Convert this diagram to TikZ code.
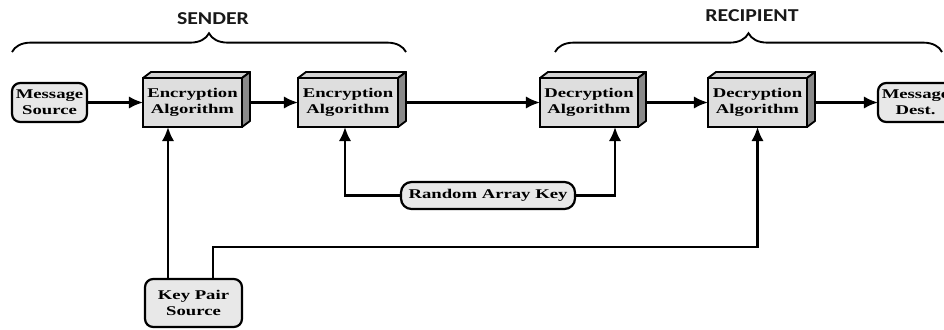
\documentclass[tikz,border=0pt]{standalone}
\usepackage{fontspec}
\usetikzlibrary{arrows.meta,decorations.pathreplacing,calc}
\newfontfamily\boxfont[FakeStretch=1.4]{Liberation Serif}
\newfontfamily\headfont[FakeStretch=1.2]{Carlito}
\newdimen\pxu
\pxu=0.03cm
\definecolor{boxfill}{HTML}{DEDEDE}
\definecolor{topfill}{HTML}{D2D2D2}
\definecolor{sidefill}{HTML}{8A8A8A}
\definecolor{roundfill}{HTML}{E8E8E8}
\tikzset{
  base/.style={draw=black, line width=1.9pt, outer sep=0pt, inner sep=0pt,
    align=center, font=\boxfont\bfseries\fontsize{11.4pt}{13.7pt}\selectfont},
  cubebox/.style={base, fill=boxfill, minimum width=99\pxu, minimum height=49\pxu},
  roundbox/.style={base, fill=roundfill, rounded corners=7pt},
  topface/.style={draw=black, line width=1.6pt, fill=topfill, line join=round},
  sideface/.style={draw=black, line width=1.6pt, fill=sidefill, line join=round},
  arr/.style={line width=2pt, -{Latex[length=12pt,width=10.5pt]}},
  bracestyle/.style={line width=1.6pt, decorate, decoration={brace, amplitude=16pt}},
  head/.style={font=\headfont\bfseries\fontsize{15.5pt}{18pt}\selectfont, text=black!90}
}
\begin{document}
\begin{tikzpicture}[x=0.03cm, y=-0.03cm]
\useasboundingbox (0,0) rectangle (944,329);
\clip (0,0) rectangle (944,329);

% headings and braces
\node[head] (sender) at (213,19) {SENDER};
\node[head] (recip) at (752,16) {RECIPIENT};
\draw[bracestyle] (12,52) -- (406,52);
\draw[bracestyle] (555,52) -- (942,52);

% nodes
\node[roundbox, minimum width=75\pxu, minimum height=39\pxu] (ms) at (49.5,102.5) {Message\\Source};
\node[cubebox] (e1) at (192.5,102.5) {Encryption\\Algorithm};
\node[cubebox, minimum width=100\pxu] (e2) at (348,102.5) {Encryption\\Algorithm};
\node[cubebox, minimum width=98\pxu] (d1) at (589,102.5) {Decryption\\Algorithm};
\node[cubebox] (d2) at (757.5,102.5) {Decryption\\Algorithm};
\node[roundbox, minimum width=75\pxu, minimum height=39\pxu] (md) at (915.5,102.5) {Message\\Dest.};
\node[roundbox, minimum width=97\pxu, minimum height=48\pxu] (kp) at (193.5,303) {Key Pair\\Source};
\node[roundbox, rounded corners=9pt, minimum width=174\pxu, minimum height=27\pxu] (rk) at (488,195.5) {Random Array Key};

% 3D faces
\foreach \n in {e1,e2,d1,d2}{
  \filldraw[topface] (\n.north west) -- ++(8,-6) -- ([shift={(8,-6)}]\n.north east) -- (\n.north east) -- cycle;
  \filldraw[sideface] (\n.north east) -- ++(8,-6) -- ([shift={(8,-6)}]\n.south east) -- (\n.south east) -- cycle;
}

% connectors
\draw[arr] (ms.east) -- (e1.west);
\draw[arr] ([xshift=8\pxu]e1.east) -- (e2.west);
\draw[arr] ([xshift=8\pxu]e2.east) -- (d1.west);
\draw[arr] ([xshift=8\pxu]d1.east) -- (d2.west);
\draw[arr] ([xshift=8\pxu]d2.east) -- (md.west);
\draw[arr] ([xshift=-25.5\pxu]kp.north) -- ([xshift=-24.5\pxu]e1.south);
\draw[arr] ([xshift=19.5\pxu]kp.north) -- ++(0,-32) -| (d2.south);
\draw[arr] (rk.west) -| ([xshift=-3\pxu]e2.south);
\draw[arr] (rk.east) -| ([xshift=26\pxu]d1.south);
\end{tikzpicture}
\end{document}
